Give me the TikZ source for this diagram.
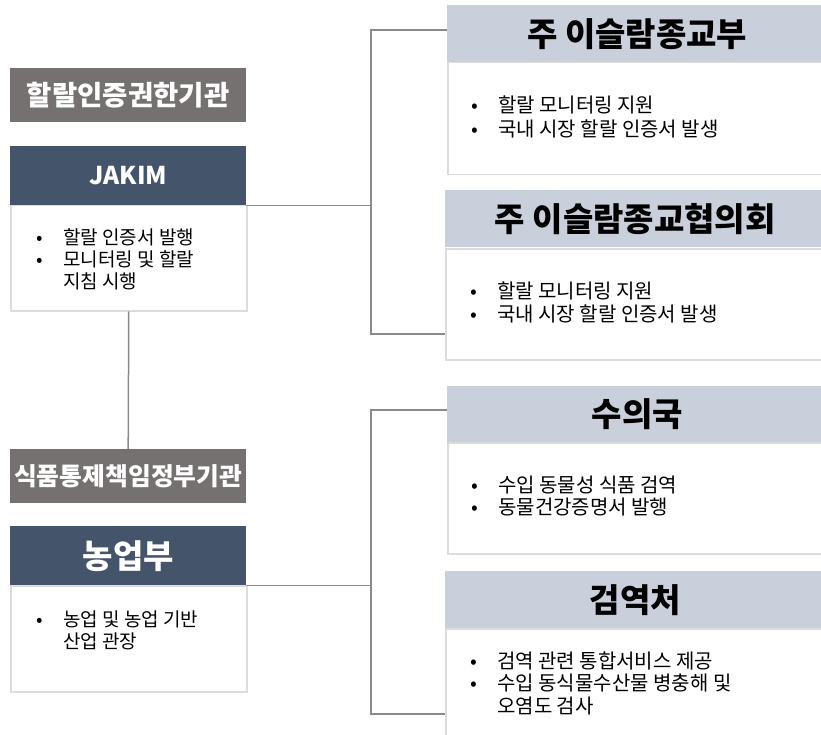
\documentclass[tikz,border=0pt]{standalone}
\usepackage{fontspec}
\setmainfont{Noto Sans CJK KR}
\definecolor{lblgray}{HTML}{767171}
\definecolor{hdblue}{HTML}{44546A}
\definecolor{rhdgray}{HTML}{C9D0DB}
\definecolor{bdgray}{HTML}{DCDCDC}
\definecolor{conngray}{HTML}{8A8A8A}
\begin{document}
\begin{tikzpicture}[x=1pt,y=-1pt,
    lbl/.style={fill=lblgray,text=white,anchor=north west,inner sep=0pt,
      minimum width=236pt,minimum height=54pt,font=\bfseries\fontsize{27.5}{30}\selectfont},
    hd/.style={fill=hdblue,text=white,anchor=north west,inner sep=0pt,
      minimum width=236pt,minimum height=59pt},
    rhd/.style={fill=rhdgray,text=black,anchor=north west,inner sep=0pt,
      minimum width=380pt,minimum height=57pt,font=\bfseries\fontsize{33}{36}\selectfont},
    bd/.style={draw=bdgray,line width=1.5pt,fill=white,anchor=north west,inner sep=0pt},
    items/.style={anchor=base west,inner sep=0pt,font=\fontsize{19}{21}\selectfont},
    ritems/.style={items,font=\fontsize{20}{21}\selectfont},
    conn/.style={draw=conngray,line width=1.5pt}]
  \useasboundingbox (0,0) rectangle (821,735);

  % left column
  \node[lbl] (halallbl) at (10,68) {할랄인증권한기관};
  \node[hd,font=\bfseries\fontsize{24.5}{28}\selectfont] (jakimhd) at (10,146) {JAKIM};
  \node[bd,minimum width=236pt,minimum height=105pt] (jakimbd) at (10,205) {};
  \node[items] (jakimtx) at (36,244) {\begin{tabular}[t]{@{}p{27pt}@{}l@{}}
    • & 할랄 인증서 발행\\
    • & 모니터링 및 할랄\\
      & 지침 시행
  \end{tabular}};

  \node[lbl,font=\bfseries\fontsize{24.8}{28}\selectfont] (foodlbl) at (10,449) {식품통제책임정부기관};
  \node[hd,font=\bfseries\fontsize{33}{36}\selectfont] (agrihd) at (10,526) {농업부};
  \node[bd,minimum width=236pt,minimum height=106pt] (agribd) at (10,585) {};
  \node[items] (agritx) at (36,626) {\begin{tabular}[t]{@{}p{27pt}@{}l@{}}
    • & 농업 및 농업 기반\\
      & 산업 관장
  \end{tabular}};

  % right column
  \node[rhd] (islamhd) at (447,5) {주 이슬람종교부};
  \node[bd,minimum width=390pt,minimum height=112pt] (islambd) at (447,62) {};
  \node[ritems] (islamtx) at (471,113) {\begin{tabular}[t]{@{}p{27pt}@{}l@{}}
    • & 할랄 모니터링 지원\\
    • & 국내 시장 할랄 인증서 발생
  \end{tabular}};

  \node[rhd] (councilhd) at (445,190) {주 이슬람종교협의회};
  \node[bd,minimum width=390pt,minimum height=111pt] (councilbd) at (445,248) {};
  \node[ritems] (counciltx) at (470,298) {\begin{tabular}[t]{@{}p{27pt}@{}l@{}}
    • & 할랄 모니터링 지원\\
    • & 국내 시장 할랄 인증서 발생
  \end{tabular}};

  \node[rhd,minimum height=56pt] (vethd) at (447,386) {수의국};
  \node[bd,minimum width=390pt,minimum height=111pt] (vetbd) at (447,442) {};
  \node[ritems] (vettx) at (471,492) {\begin{tabular}[t]{@{}p{27pt}@{}l@{}}
    • & 수입 동물성 식품 검역\\
    • & 동물건강증명서 발행
  \end{tabular}};

  \node[rhd] (quarhd) at (445,571) {검역처};
  \node[bd,minimum width=390pt,minimum height=115pt] (quarbd) at (445,628) {};
  \node[ritems] (quartx) at (470,668) {\begin{tabular}[t]{@{}p{27pt}@{}l@{}}
    • & 검역 관련 통합서비스 제공\\
    • & 수입 동식물수산물 병충해 및\\
      & 오염도 검사
  \end{tabular}};

  % connectors
  \coordinate (spAt) at (371,30);
  \coordinate (spAb) at (371,334);
  \coordinate (spBt) at (371,410);
  \coordinate (spBb) at (371,714);
  \draw[conn] (jakimbd.south) -- (foodlbl.north);
  \draw[conn] (jakimhd.south east) -- (jakimhd.south east -| spAt);
  \draw[conn] (islamhd.west |- spAt) -- (spAt) -- (spAb) -- (councilbd.west |- spAb);
  \draw[conn] (agrihd.south east) -- (agrihd.south east -| spBt);
  \draw[conn] (vethd.west |- spBt) -- (spBt) -- (spBb) -- (quarbd.west |- spBb);
\end{tikzpicture}
\end{document}
